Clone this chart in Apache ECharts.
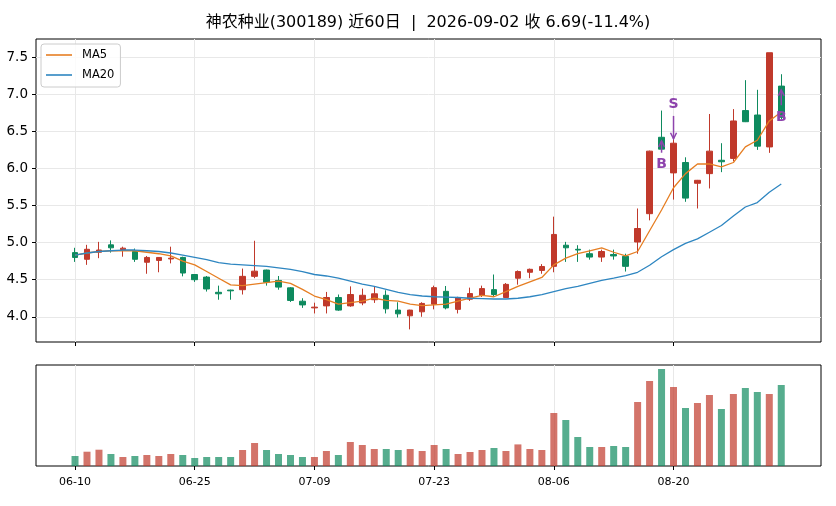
<!DOCTYPE html>
<html lang="zh">
<head>
<meta charset="UTF-8">
<title>神农种业(300189) 近60日</title>
<script src="https://cdn.jsdelivr.net/npm/echarts@6/dist/echarts.min.js"></script>
<style>
  html, body { margin: 0; padding: 0; background: #fff; }
  #main { width: 836px; height: 506px; }
</style>
</head>
<body>
<div id="main"></div>
<script>
// ---- data ----
var dates = ['06-10','06-11','06-12','06-15','06-16','06-17','06-18','06-22','06-23','06-24',
  '06-25','06-26','06-29','06-30','07-01','07-02','07-03','07-06','07-07','07-08',
  '07-09','07-10','07-13','07-14','07-15','07-16','07-17','07-20','07-21','07-22',
  '07-23','07-24','07-27','07-28','07-29','07-30','07-31','08-03','08-04','08-05',
  '08-06','08-07','08-10','08-11','08-12','08-13','08-14','08-17','08-18','08-19',
  '08-20','08-21','08-24','08-25','08-26','08-27','08-28','08-31','09-01','09-02'];

var open = [4.865,4.775,4.87,4.97,4.905,4.88,4.735,4.76,4.78,4.80,
  4.57,4.535,4.33,4.36,4.365,4.545,4.63,4.49,4.39,4.21,
  4.12,4.147,4.26,4.147,4.187,4.23,4.29,4.09,4.013,4.067,
  4.17,4.343,4.10,4.237,4.29,4.366,4.26,4.52,4.60,4.625,
  4.68,4.965,4.91,4.85,4.805,4.84,4.815,5.008,5.39,6.42,
  5.94,6.08,5.80,5.93,6.11,6.135,6.78,6.72,6.29,7.11];
var close = [4.80,4.91,4.90,4.93,4.925,4.775,4.80,4.80,4.79,4.59,
  4.50,4.375,4.31,4.35,4.545,4.615,4.465,4.40,4.22,4.16,
  4.13,4.26,4.09,4.30,4.29,4.31,4.107,4.04,4.09,4.18,
  4.393,4.12,4.254,4.313,4.38,4.30,4.437,4.61,4.64,4.678,
  5.11,4.93,4.90,4.805,4.88,4.82,4.68,5.19,6.233,6.26,
  6.34,5.60,5.84,6.233,6.09,6.64,6.63,6.30,7.56,6.69];
var low = [4.74,4.70,4.79,4.865,4.81,4.74,4.58,4.60,4.72,4.545,
  4.47,4.34,4.23,4.23,4.30,4.52,4.42,4.365,4.20,4.12,
  4.045,4.045,4.08,4.135,4.156,4.187,4.045,3.99,3.83,4.00,
  4.10,4.10,4.045,4.214,4.267,4.267,4.254,4.433,4.52,4.58,
  4.60,4.74,4.74,4.77,4.74,4.77,4.61,4.85,5.30,6.25,
  5.58,5.55,5.46,5.73,5.95,6.10,6.625,6.25,6.21,6.66];
var high = [4.93,4.97,5.01,5.03,4.945,4.92,4.82,4.805,4.945,4.81,
  4.575,4.55,4.42,4.365,4.65,5.025,4.635,4.55,4.40,4.25,
  4.19,4.335,4.30,4.41,4.38,4.41,4.357,4.196,4.095,4.196,
  4.42,4.415,4.27,4.393,4.42,4.57,4.455,4.625,4.65,4.71,
  5.35,5.01,4.965,4.905,4.905,4.905,4.85,5.46,6.24,6.78,
  6.66,6.15,5.845,6.734,6.34,6.80,7.19,7.06,7.56,7.27];

var ma5 = [4.83,4.86,4.88,4.89,4.89,4.89,4.87,4.85,4.82,4.75,
  4.70,4.61,4.52,4.43,4.42,4.44,4.46,4.48,4.45,4.37,
  4.28,4.23,4.17,4.19,4.21,4.25,4.22,4.21,4.17,4.15,
  4.16,4.17,4.21,4.25,4.29,4.27,4.34,4.41,4.47,4.53,
  4.70,4.79,4.85,4.89,4.93,4.87,4.82,4.88,5.16,5.44,
  5.74,5.93,6.06,6.06,6.02,6.08,6.29,6.38,6.64,6.76];
var ma20 = [4.83,4.86,4.88,4.89,4.90,4.90,4.89,4.88,4.86,4.83,
  4.80,4.77,4.73,4.71,4.70,4.69,4.68,4.66,4.64,4.61,
  4.57,4.55,4.52,4.48,4.44,4.41,4.37,4.33,4.30,4.28,
  4.27,4.265,4.26,4.25,4.245,4.24,4.24,4.25,4.27,4.30,
  4.34,4.38,4.41,4.45,4.49,4.52,4.555,4.60,4.695,4.81,
  4.905,4.99,5.05,5.14,5.23,5.36,5.48,5.54,5.68,5.79];

// volume, relative units (axis top = 101)
var volume = [10,14.3,16.3,12,9,10,11,10,12,11,
  8,9,9,9,16,23,16,12,11,9,
  9,15,11,24,21,17,17,16,17,15,
  21,17,12,14,16,18,15,21.6,17,16,
  53,46,29,19,19,20,19,64,85,97,
  79,58,63,71,57,72,78,74,72,81];

// trade marks: index, label, text price, arrow tip price
var markIdx = [49, 50, 59];
var markSide = ['B', 'S', 'B'];
var markTextPrice = [6.05, 6.87, 6.69];
var markTipPrice = [6.37, 6.40, 7.06];

var dateTicks = [0, 10, 20, 30, 40, 50];
var priceTicks = [4.0, 4.5, 5.0, 5.5, 6.0, 6.5, 7.0, 7.5];

var titleText = '神农种业(300189) 近60日  |  2026-09-02 收 6.69(-11.4%)';

// ---- chart ----
var UP = '#c0392b', DOWN = '#0e8a5e';
var UP_VOL = 'rgba(192,57,43,0.7)', DOWN_VOL = 'rgba(14,138,94,0.7)';
var PURPLE = '#8e44ad';
var FONT = '"DejaVu Sans", "Noto Sans CJK SC", sans-serif';
var GRIDC = '#e8e8e8';

var candle = dates.map(function (d, i) { return [i, open[i], close[i], low[i], high[i]]; });
var ma5Data = ma5.map(function (v, i) { return [i, v]; });
var ma20Data = ma20.map(function (v, i) { return [i, v]; });
var volData = volume.map(function (v, i) {
    return { value: [i, v], itemStyle: { color: close[i] >= open[i] ? UP_VOL : DOWN_VOL } };
});
var markData = markIdx.map(function (x, k) { return [x, markTextPrice[k], markTipPrice[k]]; });

var xMin = -3.26, xMax = 62.32;

function xAxisFor(grid, withLabels) {
    return {
        type: 'value', gridIndex: grid, min: xMin, max: xMax,
        axisLine: { show: false, onZero: false },
        axisTick: { show: true, customValues: dateTicks, length: 4, lineStyle: { color: '#000', width: 1 } },
        axisLabel: {
            show: withLabels, customValues: dateTicks, margin: 11,
            color: '#000', fontSize: 11, fontFamily: FONT,
            formatter: function (v) { return dates[Math.round(v)]; }
        },
        splitLine: { show: true, customValues: dateTicks, lineStyle: { color: GRIDC, width: 1 } }
    };
}

var chart = echarts.init(document.getElementById('main'), null, { renderer: 'canvas' });
chart.setOption({
    animation: false,
    backgroundColor: '#fff',
    textStyle: { fontFamily: FONT },
    graphic: [{
        type: 'text', x: 428, y: 23,
        style: { text: titleText, align: 'center', verticalAlign: 'middle',
                 font: '16px ' + FONT, fill: '#000' }
    }],
    legend: {
        data: ['MA5', 'MA20'], orient: 'vertical', left: 41, top: 44,
        icon: 'rect', itemWidth: 26, itemHeight: 1.6, itemGap: 6,
        padding: [4, 6, 5, 5],
        backgroundColor: 'rgba(255,255,255,0.8)', borderColor: '#cccccc', borderWidth: 1, borderRadius: 3,
        textStyle: { fontSize: 11.5, color: '#000', lineHeight: 14, padding: [0, 0, 0, 5] }
    },
    grid: [
        { left: 36, right: 15, top: 39, height: 303, show: true, borderColor: '#000', borderWidth: 1, backgroundColor: 'transparent' },
        { left: 36, right: 15, top: 365, height: 101, show: true, borderColor: '#000', borderWidth: 1, backgroundColor: 'transparent' }
    ],
    xAxis: [xAxisFor(0, false), xAxisFor(1, true)],
    yAxis: [
        {
            type: 'value', gridIndex: 0, min: 3.66, max: 7.745,
            axisLine: { show: false, onZero: false },
            axisTick: { show: true, customValues: priceTicks, length: 4, lineStyle: { color: '#000' } },
            axisLabel: { customValues: priceTicks, margin: 8, color: '#000', fontSize: 13.5, fontFamily: FONT,
                         formatter: function (v) { return v.toFixed(1); } },
            splitLine: { show: true, customValues: priceTicks, lineStyle: { color: GRIDC, width: 1 } }
        },
        {
            type: 'value', gridIndex: 1, min: 0, max: 101,
            axisLine: { show: false, onZero: false }, axisTick: { show: false },
            axisLabel: { show: false }, splitLine: { show: false }
        }
    ],
    series: [
        {
            type: 'candlestick', name: 'K', xAxisIndex: 0, yAxisIndex: 0, layout: 'horizontal',
            data: candle, encode: { x: 0, y: [1, 2, 3, 4] }, barWidth: 6, z: 2,
            itemStyle: { color: UP, color0: DOWN, borderColor: UP, borderColor0: DOWN, borderWidth: 1 }
        },
        {
            type: 'line', name: 'MA5', xAxisIndex: 0, yAxisIndex: 0, data: ma5Data,
            showSymbol: false, symbol: 'none', z: 3, color: '#e67e22',
            lineStyle: { color: '#e67e22', width: 1.3 }
        },
        {
            type: 'line', name: 'MA20', xAxisIndex: 0, yAxisIndex: 0, data: ma20Data,
            showSymbol: false, symbol: 'none', z: 3, color: '#2e86c1',
            lineStyle: { color: '#2e86c1', width: 1.3 }
        },
        {
            type: 'custom', name: 'marks', xAxisIndex: 0, yAxisIndex: 0, data: markData, z: 4,
            encode: { x: 0, y: [1, 2] },
            renderItem: function (params, api) {
                var x = api.value(0);
                var pt = api.coord([x, api.value(1)]);
                var tip = api.coord([x, api.value(2)]);
                var dir = tip[1] < pt[1] ? -1 : 1;
                var start = pt[1] + dir * 12;
                return {
                    type: 'group',
                    children: [
                        { type: 'text', style: { text: markSide[params.dataIndex], x: pt[0], y: pt[1],
                            align: 'center', verticalAlign: 'middle', fill: PURPLE, font: 'bold 14px ' + FONT } },
                        { type: 'line', shape: { x1: pt[0], y1: start, x2: tip[0], y2: tip[1] },
                          style: { stroke: PURPLE, lineWidth: 1.5 } },
                        { type: 'polyline', shape: { points: [[tip[0] - 3, tip[1] - dir * 6], [tip[0], tip[1]], [tip[0] + 3, tip[1] - dir * 6]] },
                          style: { stroke: PURPLE, fill: null, lineWidth: 1.5 } }
                    ]
                };
            }
        },
        {
            type: 'bar', name: 'VOL', xAxisIndex: 1, yAxisIndex: 1, data: volData, barWidth: 7
        }
    ]
});
</script>
</body>
</html>
